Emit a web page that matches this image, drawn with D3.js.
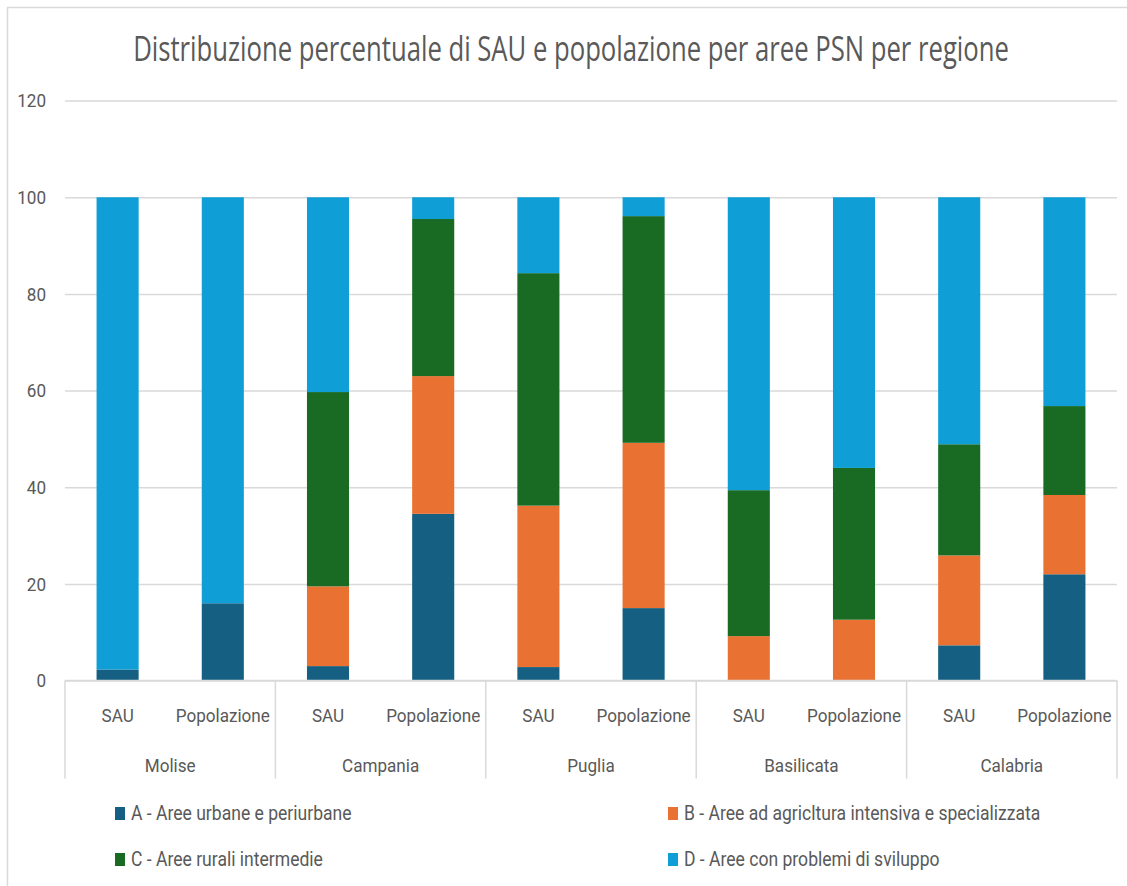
<!DOCTYPE html>
<html>
<head>
<meta charset="utf-8">
<script src="https://cdn.jsdelivr.net/npm/d3@7"></script>
<style>
  body { margin: 0; background: #fff; }
  text { fill: #595959; }
</style>
</head>
<body>
<svg width="1127" height="886"></svg>
<script>
const regions = ['Molise', 'Campania', 'Puglia', 'Basilicata', 'Calabria'];
const measures = ['SAU', 'Popolazione'];
const seriesNames = [
  'A - Aree urbane e periurbane',
  'B - Aree ad agricltura intensiva e specializzata',
  'C - Aree rurali intermedie',
  'D - Aree con problemi di sviluppo'
];
// one value per bar: Molise SAU, Molise Pop, Campania SAU, ...
const areaA = [2.3, 16.0, 3.0, 34.5, 2.8, 15.0, 0, 0, 7.3, 22.0];
const areaB = [0, 0, 16.5, 28.5, 33.4, 34.2, 9.2, 12.6, 18.6, 16.4];
const areaC = [0, 0, 40.2, 32.5, 48.1, 46.9, 30.2, 31.4, 23.0, 18.4];
const areaD = [97.7, 84.0, 40.3, 4.5, 15.7, 3.9, 60.6, 56.0, 51.1, 43.2];
const yTicks = [0, 20, 40, 60, 80, 100, 120];
const colors = ['#156082', '#e97132', '#196b24', '#0f9ed5'];

const svg = d3.select('svg');
const width = +svg.attr('width');
const height = +svg.attr('height');

const sx = 0.9;          // condensed look of the reference text
const font = 'Roboto, sans-serif';

const margin = { top: 100.6, left: 65, right: 10, bottom: 205.4 };
const innerWidth = width - margin.left - margin.right;
const innerHeight = height - margin.top - margin.bottom;

// chart frame (only top and left edges show in the picture)
svg.append('path')
  .attr('d', `M7.5,${height} V7.5 H${width}`)
  .attr('fill', 'none')
  .attr('stroke', '#d9d9d9')
  .attr('stroke-width', 1.5);

svg.append('text')
  .attr('transform', `translate(571, 61) scale(0.755,1)`)
  .attr('text-anchor', 'middle')
  .style('font-family', '"Open Sans", sans-serif')
  .style('font-size', '34px')
  .text('Distribuzione percentuale di SAU e popolazione per aree PSN per regione');

const root = svg.append('g')
  .attr('transform', `translate(${margin.left}, ${margin.top})`);

const data = [];
regions.forEach((r, i) => {
  measures.forEach((m, j) => {
    const k = i * measures.length + j;
    data.push({ key: r + '|' + m, region: r, measure: m,
      A: areaA[k], B: areaB[k], C: areaC[k], D: areaD[k] });
  });
});

const xScale = d3.scaleBand()
  .domain(data.map(d => d.key))
  .range([0, innerWidth])
  .paddingInner(0.6)
  .paddingOuter(0.3);

const groupScale = d3.scaleBand()
  .domain(regions)
  .range([0, innerWidth]);

const yScale = d3.scaleLinear()
  .domain([0, 120])
  .range([innerHeight, 0]);

// y axis + gridlines
const yAxis = d3.axisLeft(yScale)
  .tickValues(yTicks)
  .tickSize(-innerWidth)
  .tickPadding(19);

const yG = root.append('g').call(yAxis);
yG.select('.domain').remove();
yG.selectAll('.tick line')
  .attr('stroke', '#d9d9d9')
  .attr('stroke-width', 1.5);
yG.selectAll('.tick text')
  .attr('transform', `scale(${sx},1)`)
  .attr('x', -19 / sx)
  .style('font-family', font)
  .style('font-size', '19px')
  .attr('fill', '#595959');

// stacked bars
const keys = ['A', 'B', 'C', 'D'];
const stacked = d3.stack().keys(keys)(data);

root.selectAll('g.series')
  .data(stacked)
  .join('g')
  .attr('class', 'series')
  .attr('fill', (d, i) => colors[i])
  .selectAll('rect')
  .data(d => d)
  .join('rect')
  .attr('x', d => xScale(d.data.key))
  .attr('y', d => yScale(d[1]))
  .attr('width', xScale.bandwidth())
  .attr('height', d => yScale(d[0]) - yScale(d[1]));

// x axis: baseline, separators, two-level labels
const xG = root.append('g').attr('transform', `translate(0, ${innerHeight})`);
xG.append('line')
  .attr('x1', 0).attr('x2', innerWidth)
  .attr('stroke', '#d9d9d9').attr('stroke-width', 1.5);

const bounds = regions.map(r => groupScale(r)).concat([innerWidth]);
xG.selectAll('line.sep')
  .data(bounds)
  .join('line')
  .attr('class', 'sep')
  .attr('x1', d => d).attr('x2', d => d)
  .attr('y1', 0).attr('y2', 98)
  .attr('stroke', '#d9d9d9').attr('stroke-width', 1.5);

xG.selectAll('g.sub')
  .data(data)
  .join('g')
  .attr('class', 'sub')
  .attr('transform', d => `translate(${xScale(d.key) + xScale.bandwidth() / 2}, 41)`)
  .append('text')
  .attr('transform', `scale(${sx},1)`)
  .attr('text-anchor', 'middle')
  .style('font-family', font)
  .style('font-size', '19px')
  .text(d => d.measure);

xG.selectAll('g.grp')
  .data(regions)
  .join('g')
  .attr('class', 'grp')
  .attr('transform', d => `translate(${groupScale(d) + groupScale.bandwidth() / 2}, 91)`)
  .append('text')
  .attr('transform', `scale(${sx},1)`)
  .attr('text-anchor', 'middle')
  .style('font-family', font)
  .style('font-size', '19px')
  .text(d => d);

// legend
const legendPos = [[115, 807], [668, 807], [115, 853], [668, 853]];
const legend = svg.selectAll('g.legend')
  .data(seriesNames)
  .join('g')
  .attr('class', 'legend')
  .attr('transform', (d, i) => `translate(${legendPos[i][0]}, ${legendPos[i][1]})`);

legend.append('rect')
  .attr('width', 10).attr('height', 13)
  .attr('fill', (d, i) => colors[i]);

legend.append('text')
  .attr('transform', `translate(16, 13) scale(${sx},1)`)
  .style('font-family', font)
  .style('font-size', '19.5px')
  .text(d => d);
</script>
</body>
</html>
